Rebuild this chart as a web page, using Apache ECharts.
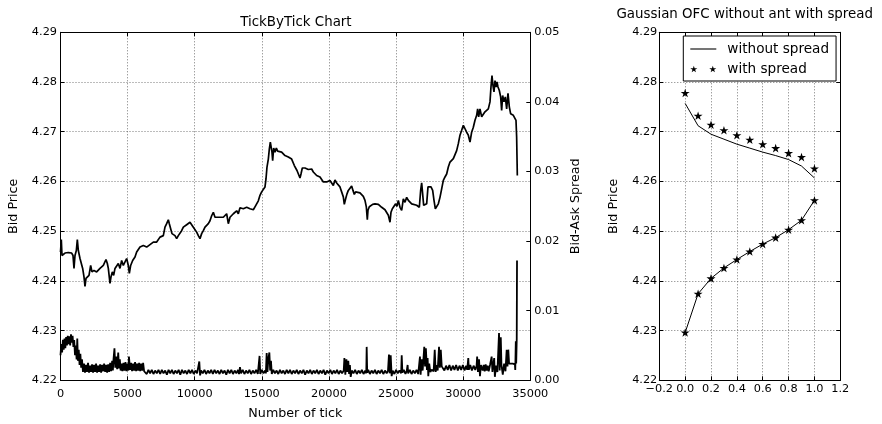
<!DOCTYPE html>
<html>
<head>
<meta charset="utf-8">
<script src="https://cdn.jsdelivr.net/npm/echarts@6/dist/echarts.min.js"></script>
<style>
  html, body { margin: 0; padding: 0; background: #fff; }
  #chart { width: 882px; height: 424px; }
</style>
</head>
<body>
<div id="chart"></div>
<script>
// Tick-by-tick bid price: [tick number, bid price]
const bidPrice = [
  [0,4.2458],[60,4.2483],[110,4.2451],[335,4.2456],[583,4.2457],[832,4.2456],[931,4.2451],[1006,4.2425],[1080,4.2451],[1180,4.2461],
  [1254,4.2483],[1328,4.2461],[1453,4.2445],[1651,4.2425],[1750,4.2408],[1825,4.2389],[1900,4.2405],[2024,4.2409],[2123,4.2411],[2247,4.2431],
  [2346,4.2418],[2495,4.2421],[2694,4.2418],[2942,4.2425],[3191,4.2431],[3389,4.2443],[3489,4.2435],[3563,4.2425],[3687,4.2395],[3762,4.2408],
  [3861,4.2418],[3960,4.2411],[4060,4.2425],[4184,4.2428],[4308,4.2435],[4432,4.2425],[4556,4.2441],[4680,4.2431],[4805,4.2438],[4929,4.2445],
  [5053,4.2431],[5128,4.2415],[5227,4.2431],[5376,4.2441],[5550,4.2448],[5674,4.2458],[5798,4.2461],[5922,4.2468],[6046,4.2465],[6170,4.2471],
  [6419,4.2468],[6667,4.2473],[6915,4.2478],[7040,4.2481],[7164,4.2478],[7412,4.2488],[7660,4.2491],[7784,4.2508],[7909,4.2515],[8033,4.2523],
  [8107,4.2515],[8207,4.2505],[8306,4.2495],[8405,4.2498],[8529,4.2491],[8654,4.2485],[8778,4.2491],[8902,4.2495],[9026,4.2501],[9150,4.2508],
  [9274,4.2505],[9399,4.2513],[9523,4.2511],[9647,4.2518],[9771,4.2515],[9896,4.2508],[10020,4.2505],[10144,4.2498],[10268,4.2491],[10392,4.2485],
  [10516,4.2495],[10641,4.2501],[10765,4.2508],[10889,4.2511],[11013,4.2515],[11137,4.2521],[11261,4.2531],[11386,4.2538],[11510,4.2528],[11634,4.2529],
  [11882,4.2528],[12131,4.2528],[12255,4.2531],[12379,4.2535],[12503,4.2515],[12627,4.2528],[12876,4.2535],[13000,4.2538],[13124,4.2541],[13248,4.2535],
  [13372,4.2547],[13620,4.2545],[13869,4.2548],[14117,4.2545],[14365,4.2543],[14489,4.2549],[14614,4.2551],[14738,4.2561],[14862,4.2572],[14986,4.2579],
  [15110,4.2581],[15235,4.2589],[15309,4.2605],[15384,4.2629],[15483,4.2645],[15557,4.2665],[15632,4.2679],[15681,4.2682],[15756,4.2659],[15806,4.2642],
  [15880,4.2667],[15979,4.2659],[16079,4.2667],[16178,4.2661],[16278,4.2663],[16476,4.2659],[16600,4.2655],[16724,4.2652],[16848,4.2654],[16973,4.2649],
  [17097,4.2649],[17221,4.2645],[17345,4.2642],[17420,4.2632],[17519,4.2629],[17618,4.2622],[17718,4.2622],[17842,4.2607],[17917,4.2615],[18015,4.2627],
  [18115,4.2625],[18214,4.2627],[18338,4.2623],[18462,4.2624],[18587,4.2625],[18711,4.2625],[18835,4.2619],[18959,4.2622],[19083,4.2612],[19207,4.2612],
  [19332,4.2609],[19456,4.2605],[19580,4.2599],[19704,4.2602],[19828,4.2599],[19952,4.2595],[20076,4.2602],[20200,4.2603],[20325,4.2592],[20449,4.2603],
  [20573,4.2597],[20697,4.2595],[20821,4.2589],[20945,4.2579],[21070,4.2569],[21144,4.2554],[21243,4.2565],[21343,4.2575],[21442,4.2582],[21566,4.2585],
  [21690,4.2591],[21790,4.2582],[21889,4.2574],[21988,4.2579],[22137,4.2575],[22311,4.2577],[22435,4.2577],[22559,4.2570],[22684,4.2562],[22783,4.2549],
  [22858,4.2523],[22907,4.2542],[23007,4.2549],[23131,4.2552],[23255,4.2554],[23379,4.2557],[23430,4.2555],[23555,4.2556],[23679,4.2554],[23803,4.2552],
  [23927,4.2548],[24051,4.2545],[24175,4.2543],[24300,4.2542],[24424,4.2532],[24548,4.2518],[24622,4.2538],[24722,4.2545],[24846,4.2550],[24970,4.2555],
  [25069,4.2550],[25169,4.2562],[25293,4.2548],[25417,4.2542],[25541,4.2565],[25665,4.2558],[25789,4.2568],[25914,4.2562],[26038,4.2558],[26162,4.2555],
  [26286,4.2554],[26534,4.2552],[26733,4.2548],[26832,4.2582],[26907,4.2597],[26981,4.2595],[27056,4.2552],[27155,4.2548],[27279,4.2555],[27378,4.2589],
  [27478,4.2592],[27602,4.2589],[27726,4.2582],[27826,4.2562],[27925,4.2545],[28024,4.2548],[28148,4.2555],[28272,4.2568],[28397,4.2585],[28521,4.2602],
  [28645,4.2609],[28769,4.2615],[28893,4.2629],[29018,4.2639],[29142,4.2642],[29266,4.2646],[29390,4.2649],[29514,4.2662],[29638,4.2676],[29762,4.2693],
  [29887,4.2703],[30011,4.2713],[30135,4.2706],[30259,4.2699],[30383,4.2693],[30507,4.2679],[30631,4.2699],[30756,4.2709],[30880,4.2723],[31004,4.2733],
  [31078,4.2746],[31153,4.2730],[31252,4.2746],[31376,4.2730],[31500,4.2733],[31624,4.2740],[31749,4.2743],[31873,4.2746],[31997,4.2760],[32071,4.2790],
  [32146,4.2813],[32220,4.2793],[32295,4.2780],[32369,4.2803],[32444,4.2790],[32518,4.2800],[32593,4.2790],[32692,4.2783],[32791,4.2770],[32866,4.2743],
  [32940,4.2773],[33040,4.2760],[33139,4.2770],[33238,4.2746],[33338,4.2777],[33437,4.2750],[33536,4.2736],[33636,4.2740],[33735,4.2733],[33859,4.2730],
  [33934,4.2723],[33983,4.2689],[34033,4.2612]
];

// Tick-by-tick bid-ask spread: [tick number, spread]
const bidAskSpread = [
  [0,0.0036],[60,0.0052],[120,0.0040],[180,0.0058],[240,0.0044],[300,0.0060],[360,0.0046],[420,0.0062],[480,0.0050],[540,0.0064],
  [600,0.0052],[660,0.0063],[720,0.0050],[780,0.0066],[840,0.0054],[900,0.0064],[960,0.0048],[1020,0.0058],[1080,0.0036],[1140,0.0050],
  [1200,0.0030],[1250,0.0060],[1300,0.0028],[1360,0.0044],[1420,0.0022],[1480,0.0038],[1540,0.0018],[1600,0.0030],
  [1675,0.0012],[1750,0.0024],[1825,0.0011],[1900,0.0022],[1975,0.0012],[2050,0.0025],[2125,0.0011],[2200,0.0021],[2275,0.0012],[2350,0.0023],
  [2425,0.0011],[2500,0.0022],[2575,0.0012],[2650,0.0024],[2725,0.0011],[2800,0.0021],[2875,0.0012],[2950,0.0023],[3025,0.0011],[3100,0.0022],
  [3175,0.0013],[3250,0.0024],[3325,0.0012],[3400,0.0022],[3475,0.0011],[3550,0.0023],[3625,0.0012],[3700,0.0025],[3775,0.0013],[3850,0.0028],
  [3900,0.0014],[3950,0.0030],[4020,0.0046],[4080,0.0018],[4150,0.0034],[4220,0.0016],[4300,0.0040],[4360,0.0017],[4420,0.0030],[4480,0.0014],
  [4540,0.0024],[4615,0.0013],[4690,0.0025],[4765,0.0014],[4840,0.0026],[4915,0.0013],[4990,0.0024],[5060,0.0014],[5100,0.0034],[5180,0.0015],
  [5255,0.0025],[5330,0.0013],[5405,0.0024],[5480,0.0014],[5555,0.0026],[5630,0.0013],[5705,0.0024],[5780,0.0014],[5855,0.0025],[5930,0.0013],
  [6005,0.0024],[6080,0.0014],[6155,0.0025],[6230,0.0013],[6300,0.0013],
  [6425,0.0009],[6550,0.0015],[6675,0.0010],[6800,0.0015],[6925,0.0009],[7050,0.0014],[7175,0.0010],[7300,0.0015],[7425,0.0009],[7550,0.0015],
  [7675,0.0010],[7800,0.0014],[7925,0.0008],[8050,0.0015],[8175,0.0010],[8300,0.0015],[8425,0.0009],[8550,0.0014],[8675,0.0010],[8800,0.0015],
  [8925,0.0008],[9050,0.0015],[9175,0.0010],[9300,0.0014],[9425,0.0009],[9550,0.0015],[9675,0.0010],[9800,0.0015],[9925,0.0009],[10050,0.0014],
  [10175,0.0010],[10300,0.0008],[10340,0.0027],[10400,0.0007],[10475,0.0014],[10600,0.0010],[10725,0.0015],[10850,0.0009],[10975,0.0014],[11100,0.0010],
  [11225,0.0015],[11350,0.0009],[11475,0.0015],[11600,0.0010],[11725,0.0014],[11850,0.0009],[11975,0.0015],[12100,0.0010],[12225,0.0014],[12350,0.0008],
  [12475,0.0015],[12600,0.0010],[12725,0.0015],[12850,0.0009],[12975,0.0014],[13100,0.0010],[13225,0.0015],[13300,0.0009],[13370,0.0019],[13450,0.0010],
  [13575,0.0015],[13700,0.0009],[13825,0.0014],[13950,0.0010],[14075,0.0015],[14200,0.0009],[14325,0.0014],[14450,0.0010],[14575,0.0015],[14700,0.0009],
  [14800,0.0010],[14830,0.0035],[14880,0.0009],[15000,0.0015],[15125,0.0010],[15250,0.0014],[15300,0.0010],[15360,0.0039],[15420,0.0012],[15480,0.0030],
  [15560,0.0040],[15620,0.0014],[15680,0.0028],[15740,0.0009],[15850,0.0015],[15975,0.0010],[16100,0.0014],[16225,0.0009],[16350,0.0015],[16475,0.0010],
  [16600,0.0014],[16725,0.0009],[16850,0.0015],[16975,0.0010],[17100,0.0015],[17225,0.0009],[17350,0.0014],[17475,0.0010],[17600,0.0015],[17725,0.0009],
  [17850,0.0014],[17975,0.0010],[18100,0.0015],[18225,0.0008],[18350,0.0014],[18475,0.0010],[18600,0.0015],[18725,0.0009],[18850,0.0014],[18975,0.0010],
  [19100,0.0015],[19225,0.0009],[19350,0.0014],[19475,0.0010],[19600,0.0015],[19725,0.0008],[19850,0.0014],[19975,0.0010],[20100,0.0015],[20225,0.0009],
  [20350,0.0014],[20475,0.0010],[20600,0.0015],[20725,0.0009],[20850,0.0014],[20975,0.0010],[21100,0.0014],[21150,0.0032],[21220,0.0008],[21300,0.0030],
  [21370,0.0012],[21440,0.0028],[21500,0.0009],[21560,0.0022],[21620,0.0005],[21700,0.0014],[21825,0.0010],[21950,0.0015],[22075,0.0009],[22200,0.0014],
  [22325,0.0010],[22450,0.0015],[22575,0.0009],[22700,0.0014],[22780,0.0010],[22810,0.0048],[22850,0.0011],[22925,0.0015],[23050,0.0009],[23175,0.0014],
  [23300,0.0010],[23425,0.0015],[23550,0.0009],[23675,0.0014],[23800,0.0010],[23925,0.0015],[24050,0.0009],[24175,0.0014],[24300,0.0010],[24400,0.0014],
  [24470,0.0037],[24520,0.0010],[24600,0.0036],[24670,0.0006],[24750,0.0014],[24875,0.0009],[25000,0.0015],[25125,0.0010],[25250,0.0014],[25380,0.0010],
  [25420,0.0036],[25470,0.0011],[25575,0.0015],[25700,0.0009],[25800,0.0014],[25860,0.0022],[25900,0.0010],[26025,0.0015],[26150,0.0009],[26275,0.0014],
  [26400,0.0010],[26525,0.0015],[26650,0.0009],[26780,0.0034],[26830,0.0008],[26900,0.0030],[26980,0.0014],[27030,0.0028],[27100,0.0048],[27160,0.0020],
  [27220,0.0046],[27300,0.0015],[27350,0.0032],[27400,0.0006],[27470,0.0024],[27550,0.0012],[27650,0.0015],[27800,0.0013],[27880,0.0044],[27950,0.0012],
  [28000,0.0022],[28100,0.0014],[28200,0.0048],[28260,0.0018],[28330,0.0044],[28400,0.0020],[28470,0.0022],[28600,0.0014],[28725,0.0021],[28850,0.0015],
  [28975,0.0022],[29100,0.0014],[29225,0.0021],[29350,0.0015],[29475,0.0022],[29600,0.0014],[29725,0.0021],[29850,0.0015],[29975,0.0022],[30100,0.0014],
  [30225,0.0021],[30300,0.0015],[30380,0.0032],[30420,0.0015],[30525,0.0022],[30650,0.0014],[30775,0.0021],[30900,0.0015],[31000,0.0021],[31040,0.0034],
  [31100,0.0012],[31180,0.0030],[31250,0.0006],[31320,0.0022],[31450,0.0014],[31525,0.0022],[31600,0.0013],[31675,0.0023],[31750,0.0014],[31825,0.0021],
  [31900,0.0013],[32000,0.0022],[32120,0.0034],[32180,0.0012],[32310,0.0032],[32360,0.0005],[32450,0.0021],[32550,0.0012],[32670,0.0068],[32720,0.0014],
  [32800,0.0062],[32850,0.0022],[32950,0.0008],[33050,0.0024],[33150,0.0013],[33240,0.0044],[33300,0.0020],[33360,0.0044],[33420,0.0024],[33550,0.0023],
  [33700,0.0024],[33850,0.0023],[33880,0.0015],[33920,0.0056],[33950,0.0024],[33990,0.0060],[34010,0.0172]
];

// Gaussian OFC curves, sampled on the unit interval
const ofcX = [0.0, 0.1, 0.2, 0.3, 0.4, 0.5, 0.6, 0.7, 0.8, 0.9, 1.0];
const askNoSpread   = [4.2757, 4.2712, 4.2695, 4.2685, 4.2675, 4.2667, 4.2659, 4.2652, 4.2644, 4.2631, 4.2607];
const bidNoSpread   = [4.2296, 4.2374, 4.2405, 4.2426, 4.2443, 4.2459, 4.2474, 4.2487, 4.2503, 4.2522, 4.2562];
const askWithSpread = [4.2778, 4.2732, 4.2714, 4.2703, 4.2693, 4.2684, 4.2675, 4.2667, 4.2657, 4.2649, 4.2626];
const bidWithSpread = [4.2296, 4.2374, 4.2405, 4.2426, 4.2443, 4.2459, 4.2474, 4.2487, 4.2503, 4.2522, 4.2562];

const seriesNames = ['without spread', 'with spread'];
const titles = ['TickByTick Chart', 'Gaussian OFC without ant with spread'];

const FONT = 'DejaVu Sans';
const INK = '#000';

// five-pointed star outline centred on (cx, cy)
function starPath(cx, cy, R) {
  const r = R * 0.381966;
  let d = '';
  for (let i = 0; i < 10; i++) {
    const a = -Math.PI / 2 + i * Math.PI / 5;
    const rad = i % 2 === 0 ? R : r;
    const x = (cx + rad * Math.cos(a)).toFixed(3);
    const y = (cy + rad * Math.sin(a)).toFixed(3);
    d += (i === 0 ? 'M' : 'L') + x + ',' + y;
  }
  return d + 'Z';
}
const STAR = 'path://' + starPath(0, 0, 10);
const STAR_PAIR = 'path://' + starPath(3.5, 3.7, 3.7) + starPath(22.5, 3.7, 3.7);
const LINE_ICON = 'path://M0,0L24,0L24,1L0,1Z';

const pairs = (xs, ys) => xs.map((x, i) => [x, ys[i]]);

const frame = { show: true, onZero: false, lineStyle: { color: INK, width: 1 } };
const tickIn = { show: true, inside: true, length: 4, lineStyle: { color: INK, width: 1 } };
const dotted = { show: true, lineStyle: { color: '#555', width: 0.8, type: [1, 2] } };
const noSplit = { show: false };
const tickFont = (extra) => Object.assign({ fontFamily: FONT, fontSize: 11.3, color: INK }, extra);
const plain = v => String(v);
const fix2 = v => v.toFixed(2);
const signed1 = v => Math.abs(v) < 1e-9 ? '0.0' : (v < 0 ? '\u2212' : '') + Math.abs(v).toFixed(1);
const txt = (text, x, y, size, rot) => ({
  type: 'text', x: x, y: y, rotation: rot || 0, silent: true,
  style: { text: text, fill: INK, fontFamily: FONT, fontSize: size,
           align: 'center', verticalAlign: 'middle', textAlign: 'center', textVerticalAlign: 'middle' }
});

const chart = echarts.init(document.getElementById('chart'), null, { renderer: 'canvas' });

chart.setOption({
  animation: false,
  backgroundColor: '#fff',
  grid: [
    { left: 60.5, top: 32.3, width: 469.8, height: 348, outerBoundsMode: 'none', containLabel: false },
    { left: 659.3, top: 32.3, width: 181, height: 348, outerBoundsMode: 'none', containLabel: false }
  ],
  xAxis: [
    { gridIndex: 0, type: 'value', min: 0, max: 35000, interval: 5000, axisLine: frame, axisTick: tickIn,
      splitLine: dotted, axisLabel: tickFont({ margin: 8, formatter: plain }) },
    { gridIndex: 0, type: 'value', position: 'top', min: 0, max: 35000, interval: 5000, axisLine: frame,
      axisTick: tickIn, splitLine: noSplit, axisLabel: { show: false } },
    { gridIndex: 1, type: 'value', min: -0.2, max: 1.2, interval: 0.2, axisLine: frame, axisTick: tickIn,
      splitLine: dotted, axisLabel: tickFont({ margin: 3, formatter: signed1 }) },
    { gridIndex: 1, type: 'value', position: 'top', min: -0.2, max: 1.2, interval: 0.2, axisLine: frame,
      axisTick: tickIn, splitLine: noSplit, axisLabel: { show: false } }
  ],
  yAxis: [
    { gridIndex: 0, type: 'value', position: 'left', min: 4.22, max: 4.29, interval: 0.01, axisLine: frame,
      axisTick: tickIn, splitLine: dotted, axisLabel: tickFont({ margin: 3.5, formatter: fix2 }) },
    { gridIndex: 0, type: 'value', position: 'right', min: 0, max: 0.05, interval: 0.01, axisLine: frame,
      axisTick: tickIn, splitLine: noSplit, axisLabel: tickFont({ margin: 4, formatter: fix2 }) },
    { gridIndex: 1, type: 'value', position: 'left', min: 4.22, max: 4.29, interval: 0.01, axisLine: frame,
      axisTick: tickIn, splitLine: dotted, axisLabel: tickFont({ margin: 2, formatter: fix2 }) },
    { gridIndex: 1, type: 'value', position: 'right', min: 4.22, max: 4.29, interval: 0.01, axisLine: frame,
      axisTick: tickIn, splitLine: noSplit, axisLabel: { show: false } }
  ],
  legend: {
    left: 683.3, top: 36, orient: 'vertical', selectedMode: false,
    padding: [6, 7, 5, 7], itemGap: 6, itemWidth: 26, itemHeight: 14,
    borderColor: INK, borderWidth: 1, borderRadius: 0, backgroundColor: '#fff',
    textStyle: { fontFamily: FONT, fontSize: 13.6, color: INK, padding: [0, 0, 0, 6] },
    data: [
      { name: seriesNames[0], icon: LINE_ICON, itemStyle: { color: INK } },
      { name: seriesNames[1], icon: STAR_PAIR, itemStyle: { color: INK } }
    ]
  },
  series: [
    { name: 'Bid Price', type: 'line', xAxisIndex: 0, yAxisIndex: 0, data: bidPrice,
      showSymbol: false, symbol: 'none', lineStyle: { color: INK, width: 1.7 }, z: 3 },
    { name: 'Bid-Ask Spread', type: 'line', xAxisIndex: 0, yAxisIndex: 1, data: bidAskSpread,
      showSymbol: false, symbol: 'none', lineStyle: { color: INK, width: 1.8 }, z: 3 },
    { name: seriesNames[0], type: 'line', xAxisIndex: 2, yAxisIndex: 2, data: pairs(ofcX, askNoSpread),
      showSymbol: false, symbol: 'none', lineStyle: { color: INK, width: 1 }, itemStyle: { color: INK }, z: 3 },
    { name: seriesNames[0], type: 'line', xAxisIndex: 2, yAxisIndex: 2, data: pairs(ofcX, bidNoSpread),
      showSymbol: false, symbol: 'none', lineStyle: { color: INK, width: 1 }, itemStyle: { color: INK }, z: 3 },
    { name: seriesNames[1], type: 'scatter', xAxisIndex: 2, yAxisIndex: 2, data: pairs(ofcX, askWithSpread),
      symbol: STAR, symbolSize: [9, 8.6], itemStyle: { color: INK, opacity: 1 }, z: 4 },
    { name: seriesNames[1], type: 'scatter', xAxisIndex: 2, yAxisIndex: 2, data: pairs(ofcX, bidWithSpread),
      symbol: STAR, symbolSize: [9, 8.6], itemStyle: { color: INK, opacity: 1 }, z: 4 }
  ],
  graphic: [
    txt(titles[0], 295.9, 22.5, 13.4),
    txt(titles[1], 744.7, 14.5, 13.4),
    txt('Number of tick', 295.4, 414, 12.7),
    txt('Bid Price', 13.5, 206.3, 12.7, Math.PI / 2),
    txt('Bid-Ask Spread', 575.5, 206.3, 12.7, Math.PI / 2),
    txt('Bid Price', 613.5, 206.3, 12.7, Math.PI / 2)
  ]
});
</script>
</body>
</html>
